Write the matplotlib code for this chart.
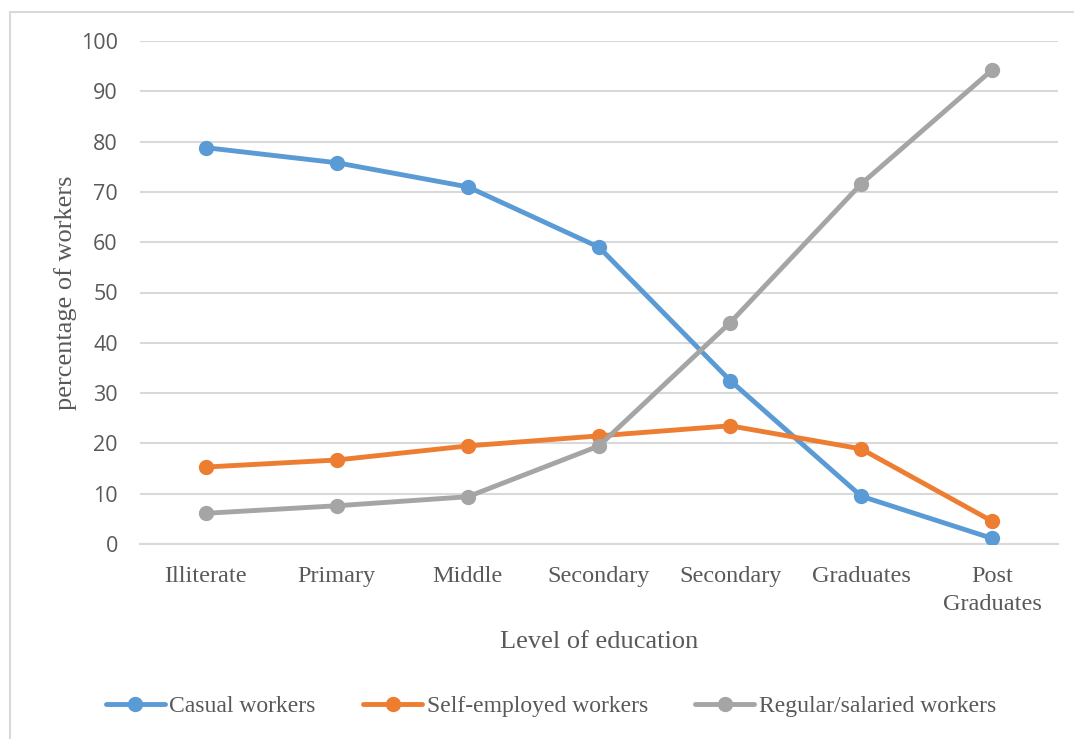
import matplotlib
matplotlib.use("Agg")
import matplotlib.pyplot as plt
from matplotlib.patches import Rectangle

# workers by level of education (%)
levels = ["Illiterate", "Primary", "Middle", "Secondary", "Secondary", "Graduates", "Post\nGraduates"]
casual = [78.8, 75.8, 71.0, 59.0, 32.5, 9.5, 1.1]
self_employed = [15.3, 16.7, 19.5, 21.5, 23.5, 18.9, 4.5]
regular = [6.1, 7.6, 9.4, 19.5, 44.0, 71.6, 94.3]
y_ticks = [0, 10, 20, 30, 40, 50, 60, 70, 80, 90, 100]

series = [
    ("Casual workers", casual, "#5B9BD5"),
    ("Self-employed workers", self_employed, "#ED7D31"),
    ("Regular/salaried workers", regular, "#A5A5A5"),
]

serif = ["Liberation Serif", "DejaVu Serif"]
sans = ["Open Sans", "DejaVu Sans"]
text_grey = "#595959"

fig = plt.figure(figsize=(10.74, 7.39), dpi=100)
ax = fig.add_axes([140 / 1074, 1 - 544 / 739, 918 / 1074, 503 / 739])

x = list(range(len(levels)))
for name, vals, color in series:
    ax.plot(x, vals, color=color, lw=3.5, marker="o", ms=10,
            label=name, solid_capstyle="round", zorder=3)

ax.set_xlim(-0.5, len(levels) - 0.5)
ax.set_ylim(0, 100)
ax.set_yticks(y_ticks)
ax.set_yticklabels([str(t) for t in y_ticks], fontfamily=sans, fontsize=15.5, color=text_grey)
ax.set_xticks(x)
ax.set_xticklabels(levels, fontfamily=serif, fontsize=17.5, color=text_grey, linespacing=1.4)
ax.tick_params(axis="both", length=0)
ax.tick_params(axis="y", pad=16)
ax.tick_params(axis="x", pad=16)

ax.grid(axis="y", color="#D9D9D9", lw=1.5, zorder=0)
for side in ax.spines.values():
    side.set_visible(False)
ax.spines["bottom"].set_visible(True)
ax.spines["bottom"].set_color("#D9D9D9")
ax.spines["bottom"].set_linewidth(1.5)

ax.set_xlabel("Level of education", fontfamily=serif, fontsize=19, color=text_grey, labelpad=12)
ax.set_ylabel("percentage of workers", fontfamily=serif, fontsize=19, color=text_grey, labelpad=3)

fig.legend(loc="center", bbox_to_anchor=(551 / 1074, 1 - 706 / 739), ncol=3,
           frameon=False, prop={"family": serif, "size": 17}, labelcolor=text_grey,
           handlelength=2.5, handletextpad=0.2, columnspacing=2.0)

# chart frame
fig.add_artist(Rectangle((10 / 1074, -0.1), 1.2, (1 - 12 / 739) + 0.1,
                         transform=fig.transFigure, fill=False,
                         edgecolor="#D9D9D9", lw=1.5))

fig.savefig("out.png", dpi=100)
